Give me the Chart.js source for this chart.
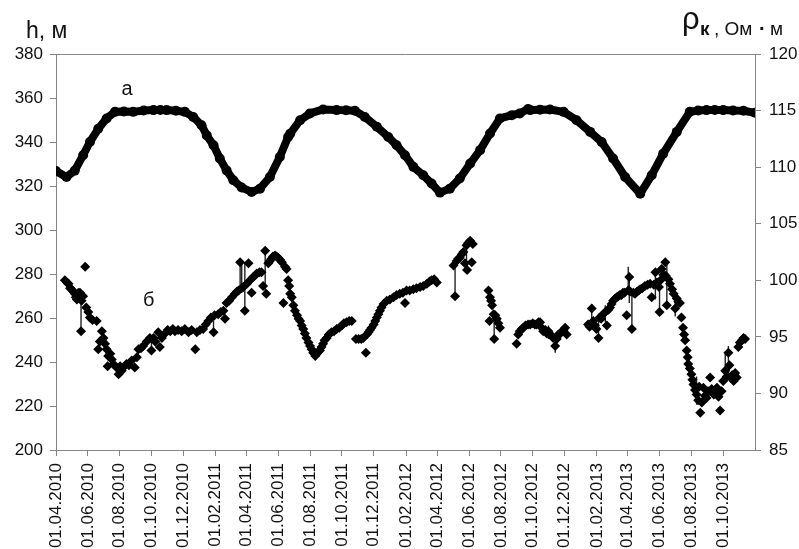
<!DOCTYPE html>
<html>
<head>
<meta charset="utf-8">
<script src="https://cdn.jsdelivr.net/npm/chart.js@4.4.1/dist/chart.umd.min.js"></script>
<style>
  html, body { margin: 0; padding: 0; background: #fff; overflow: hidden; }
  #wrap { width: 799px; height: 549px; overflow: hidden; position: relative; }
  canvas { display: block; }
</style>
</head>
<body>
<div id="wrap"><canvas id="chart" width="799" height="600"></canvas></div>
<script>
// Dates are given as day offsets from 01.04.2010.
const tickLabels = [
  '01.04.2010', '01.06.2010', '01.08.2010', '01.10.2010', '01.12.2010',
  '01.02.2011', '01.04.2011', '01.06.2011', '01.08.2011', '01.10.2011', '01.12.2011',
  '01.02.2012', '01.04.2012', '01.06.2012', '01.08.2012', '01.10.2012', '01.12.2012',
  '01.02.2013', '01.04.2013', '01.06.2013', '01.08.2013', '01.10.2013'
];
const axisStart = '01.04.2010';
const axisEnd = '01.12.2013';

const hTicks = [200, 220, 240, 260, 280, 300, 320, 340, 360, 380];
const rhoTicks = [85, 90, 95, 100, 105, 110, 115, 120];

// Curve "а": h, м (left axis)
const hDays = [
  0, 20, 36, 52, 65, 81, 97, 113, 130, 148, 168, 187, 200, 212, 230, 247, 263, 279,
  289, 302, 314, 327, 340, 356, 375, 391, 410, 429, 445, 449, 468, 487, 512, 538,
  556, 573, 592, 615, 637, 653, 669, 685, 704, 720, 736, 755, 774, 794, 813, 832,
  851, 874, 889, 905, 909, 928, 947, 973, 998, 1024, 1046, 1068, 1091, 1120, 1142,
  1164, 1190, 1215, 1231, 1247, 1263, 1279, 1298, 1318, 1340
];
const hValues = [
  326.8, 324.1, 327.0, 334.0, 340.0, 346.0, 350.7, 353.7, 353.9, 353.7, 354.3, 354.5, 354.6, 354.5, 354.2, 353.7, 351.4, 347.6,
  343.0, 338.5, 332.5, 327.1, 322.6, 319.3, 317.3, 318.8, 324.1, 333.2, 342.3, 343.8, 349.9, 353.0, 354.8, 354.5,
  354.4, 354.2, 351.4, 346.9, 342.3, 338.5, 334.0, 328.7, 324.9, 321.1, 317.0, 318.8, 323.4, 330.2, 336.3, 343.9,
  350.7, 352.2, 353.0, 355.0, 354.5, 354.7, 354.8, 353.7, 349.9, 344.6, 340.0, 332.5, 324.1, 316.5, 324.9,
  334.7, 344.6, 353.7, 354.3, 354.5, 354.6, 354.5, 354.3, 354.2, 353.3
];

// Series "б": ρк, Ом·м (right axis)
const rhoDays = [
  17, 21, 24, 27, 30, 33, 36, 38, 40, 43, 46, 48, 49, 52, 56, 58, 62, 65, 70, 78,
  81, 84, 88, 91, 94, 97, 99, 100, 104, 107, 110, 116, 120, 123, 126, 129, 135, 140, 145, 151,
  155, 158, 163, 167, 174, 180, 183, 187, 190, 196, 199, 203, 209, 214, 219, 224, 228, 234, 241, 247,
  254, 260, 267, 270, 276, 282, 287, 292, 297, 302, 304, 311, 316, 321, 324, 327, 332, 337, 343, 347,
  350, 353, 356, 359, 362, 366, 369, 372, 375, 378, 381, 385, 390, 394, 397, 401, 403, 407, 410, 413,
  416, 420, 423, 426, 430, 433, 436, 439, 442, 445, 447, 449, 452, 455, 458, 462, 465, 468, 471, 474,
  477, 480, 484, 487, 490, 493, 497, 500, 503, 506, 509, 512, 515, 519, 523, 528, 533, 538, 543, 548,
  552, 557, 562, 567, 575, 580, 585, 589, 594, 596, 599, 602, 605, 609, 612, 615, 618, 621, 624, 628,
  634, 640, 647, 653, 659, 665, 669, 672, 678, 685, 691, 698, 704, 711, 716, 720, 725, 730,
  762, 765, 768, 771, 774, 778, 781, 784, 787, 788, 790, 794, 797, 799,
  829, 831, 832, 834, 836, 839, 840, 842, 845, 848, 851,
  883, 886, 889, 893, 896, 900, 905, 909, 914, 918, 921, 925, 928, 931, 934, 938, 941, 944, 948, 953,
  957, 960, 963, 967, 970, 973, 976, 979,
  1020, 1023, 1027, 1030, 1033, 1036, 1040, 1042, 1045, 1049, 1053, 1056, 1059, 1062, 1065, 1068, 1072, 1075, 1078, 1081,
  1084, 1087, 1090, 1094, 1097, 1099, 1101, 1104, 1107, 1110, 1114, 1117, 1120, 1124, 1129, 1134, 1139, 1142, 1146, 1149,
  1152, 1156, 1157, 1159, 1161, 1164, 1168, 1169, 1171, 1174, 1177, 1181, 1184, 1187, 1190, 1193, 1196, 1199, 1202, 1204,
  1206, 1209, 1211, 1212, 1215, 1218, 1220, 1222, 1225, 1228, 1231, 1233, 1235, 1238, 1241, 1244, 1247, 1250, 1254, 1257,
  1261, 1264, 1267, 1270, 1273, 1276, 1279, 1283, 1286, 1289, 1291, 1293, 1296, 1299, 1302, 1305,
  1308, 1311, 1315, 1318, 1321
];
const rhoValues = [
  100.0, 99.8, 99.7, 99.3, 99.2, 99.0, 98.8, 98.5, 98.3, 98.9, 98.9, 95.5, 98.2, 98.6, 101.2, 97.6, 97.2, 96.7, 96.5, 96.4,
  93.9, 94.6, 95.5, 94.9, 94.4, 93.9, 92.4, 93.3, 93.5, 93.0, 92.6, 92.3, 91.7, 92.4, 92.0, 92.3, 92.6, 92.5, 92.9, 92.3,
  93.2, 93.9, 94.0, 94.2, 94.6, 94.9, 93.8, 94.9, 94.6, 95.4, 94.1, 94.9, 95.3, 95.6, 95.5, 95.7, 95.5, 95.6, 95.5, 95.7,
  95.4, 95.6, 93.9, 95.4, 95.6, 95.7, 96.1, 96.4, 96.7, 95.4, 96.9, 97.0, 97.2, 97.3, 96.6, 98.0, 98.2, 98.5, 98.8, 99.0,
  99.1, 101.6, 99.3, 99.4, 97.3, 99.7, 101.5, 100.0, 98.9, 100.3, 100.4, 100.6, 100.7, 100.7, 99.5, 102.6, 98.8, 101.5, 101.7, 101.9,
  102.1, 102.2, 102.1, 102.0, 101.8, 101.6, 98.0, 101.2, 101.0, 100.0, 99.5, 98.8, 98.5, 97.8, 97.3, 96.9, 96.6, 96.4, 96.0, 95.7,
  95.3, 94.9, 94.5, 94.2, 93.9, 93.6, 93.3, 93.5, 93.7, 93.8, 94.1, 94.4, 94.7, 94.9, 95.2, 95.4, 95.5, 95.7, 95.8, 96.0,
  96.2, 96.3, 96.4, 96.4, 94.8, 94.8, 94.8, 94.9, 93.6, 95.2, 95.4, 95.6, 95.8, 96.1, 96.4, 96.7, 97.0, 97.3, 97.6, 97.9,
  98.2, 98.3, 98.5, 98.7, 98.8, 98.9, 98.0, 99.1, 99.1, 99.2, 99.3, 99.4, 99.5, 99.7, 99.9, 100.0, 100.1, 99.8,
  101.3, 98.6, 101.7, 101.9, 102.0, 102.3, 102.5, 101.5, 103.1, 100.9, 103.3, 103.5, 101.6, 103.2,
  99.1, 96.4, 98.5, 98.2, 97.8, 97.0, 94.8, 96.9, 96.6, 96.2, 95.8,
  94.4, 95.2, 95.5, 95.7, 95.8, 96.0, 96.1, 96.1, 96.2, 96.1, 96.1, 96.3, 96.3, 95.8, 95.5, 95.6, 95.3, 95.5, 95.2, 94.9,
  94.2, 94.8, 95.2, 95.3, 95.5, 95.6, 95.8, 95.2,
  96.1, 95.9, 97.5, 96.4, 96.0, 95.7, 94.9, 96.7, 96.6, 97.0, 97.2, 96.0, 97.4, 97.6, 97.9, 98.2, 98.4, 98.5, 98.6, 98.7,
  98.7, 98.9, 98.9, 96.9, 99.1, 100.3, 99.0, 95.7, 98.9, 98.8, 99.0, 99.1, 99.2, 99.3, 99.5, 99.6, 99.7, 98.5, 99.6, 100.7,
  99.8, 99.4, 97.2, 100.0, 101.0, 100.5, 101.6, 100.4, 97.8, 100.1, 99.7, 99.2, 98.8, 97.5, 98.4, 98.1, 98.0, 96.7, 95.8, 95.2,
  94.7, 93.8, 93.2, 92.6, 92.2, 91.7, 91.2, 90.8, 90.3, 89.9, 89.4, 90.6, 88.3, 89.2, 90.5, 89.8, 89.6, 90.2, 91.4, 90.4,
  89.9, 90.1, 90.5, 89.7, 88.5, 90.2, 91.1, 92.0, 91.5, 93.6, 92.5, 91.4, 91.6, 91.1, 91.8, 91.4,
  94.1, 94.5, 94.7, 94.9, 94.8
];

// Vertical spread bars on series "б"
const errDays = [48, 183, 302, 353, 356, 362, 401, 765, 787, 840, 944, 957, 1027, 1040, 1053, 1097, 1099, 1104, 1149, 1157, 1171, 1187, 1228, 1283, 1289];
const errLow  = [95.5, 93.8, 95.4, 99.2, 99.3, 97.3, 98.8, 98.6, 100.9, 94.8, 94.8, 93.6, 96.2, 94.9, 96.3, 98.9, 98.0, 95.7, 98.3, 97.2, 97.8, 96.8, 89.0, 91.0, 91.5];
const errHigh = [98.6, 94.6, 96.9, 101.6, 101.4, 101.5, 102.6, 101.5, 103.1, 97.0, 96.0, 95.0, 97.9, 96.8, 97.8, 101.2, 100.3, 98.8, 100.9, 99.4, 101.6, 98.5, 91.5, 93.5, 94.2];

function dayOf(s) {
  const [d, m, y] = s.split('.').map(Number);
  const [d0, m0, y0] = axisStart.split('.').map(Number);
  return Math.round((Date.UTC(y, m - 1, d) - Date.UTC(y0, m0 - 1, d0)) / 86400000);
}
const tickDays = tickLabels.map(dayOf);

const hPoints = hDays.map((d, i) => ({ x: d, y: hValues[i] }));
const rhoPoints = rhoDays.map((d, i) => ({ x: d, y: rhoValues[i] }));
const errPoints = [];
errDays.forEach((d, i) => {
  errPoints.push({ x: d, y: errLow[i] }, { x: d, y: errHigh[i] }, { x: d, y: null });
});

const FONT = "Arial, 'Liberation Sans', sans-serif";
const AXIS_GREY = '#858585';

const frameAndText = {
  id: 'frameAndText',
  beforeDatasetsDraw(chart) {
    const { ctx, chartArea } = chart;
    ctx.save();
    ctx.strokeStyle = AXIS_GREY;
    ctx.lineWidth = 1;
    ctx.beginPath();
    ctx.moveTo(chartArea.left, Math.round(chartArea.top) + 0.5);
    ctx.lineTo(chartArea.right, Math.round(chartArea.top) + 0.5);
    ctx.stroke();
    ctx.restore();
  },
  afterDraw(chart) {
    const { ctx, scales } = chart;
    ctx.save();
    ctx.fillStyle = '#111';
    ctx.textBaseline = 'alphabetic';
    ctx.textAlign = 'left';
    // left axis caption
    ctx.font = '23px ' + FONT;
    ctx.fillText('h, м', 26, 38);
    // right axis caption
    ctx.font = '31px ' + FONT;
    ctx.fillText('ρ', 682, 29);
    ctx.font = 'bold 19px ' + FONT;
    ctx.fillText('к', 700, 35);
    ctx.font = '19px ' + FONT;
    ctx.fillText(', Ом', 714, 35);
    ctx.font = 'bold 20px ' + FONT;
    ctx.fillText('·', 759, 35);
    ctx.font = '19px ' + FONT;
    ctx.fillText('м', 770, 35);
    // curve names
    ctx.textAlign = 'center';
    ctx.textBaseline = 'middle';
    ctx.font = '20px ' + FONT;
    ctx.fillText('а', scales.x.getPixelForValue(136), scales.y.getPixelForValue(364));
    ctx.fillText('б', scales.x.getPixelForValue(178), scales.y1.getPixelForValue(98.2));
    ctx.restore();
  }
};

new Chart(document.getElementById('chart'), {
  type: 'scatter',
  data: {
    datasets: [
      {
        label: 'а',
        data: hPoints,
        yAxisID: 'y',
        showLine: true,
        borderColor: '#000',
        borderWidth: 8,
        borderJoinStyle: 'round',
        borderCapStyle: 'round',
        pointStyle: 'circle',
        pointRadius: 5,
        pointBackgroundColor: '#000',
        pointBorderWidth: 0
      },
      {
        label: 'б',
        data: rhoPoints,
        yAxisID: 'y1',
        showLine: false,
        pointStyle: 'rectRot',
        pointRadius: 5,
        pointBackgroundColor: '#000',
        pointBorderColor: '#000',
        pointBorderWidth: 0
      },
      {
        label: 'spread',
        data: errPoints,
        yAxisID: 'y1',
        showLine: true,
        spanGaps: false,
        borderColor: '#222',
        borderWidth: 1.4,
        pointRadius: 0
      }
    ]
  },
  options: {
    responsive: false,
    animation: false,
    devicePixelRatio: 1,
    layout: { padding: { top: 54, left: 0, right: 0, bottom: 0 } },
    plugins: { legend: { display: false }, tooltip: { enabled: false } },
    scales: {
      x: {
        type: 'linear',
        min: dayOf(axisStart),
        max: dayOf(axisEnd),
        afterBuildTicks: (scale) => { scale.ticks = tickDays.map(v => ({ value: v })); },
        afterFit: (scale) => { scale.height = 150; },
        grid: { drawOnChartArea: false, drawTicks: true, tickLength: 6, color: AXIS_GREY },
        border: { color: AXIS_GREY, width: 1 },
        ticks: {
          autoSkip: false,
          maxRotation: 90,
          minRotation: 90,
          padding: 7,
          color: '#111',
          font: { family: FONT, size: 17 },
          callback: (v, i) => tickLabels[i]
        }
      },
      y: {
        position: 'left',
        min: hTicks[0],
        max: hTicks[hTicks.length - 1],
        afterBuildTicks: (scale) => { scale.ticks = hTicks.map(v => ({ value: v })); },
        afterFit: (scale) => { scale.width = 56; },
        grid: { drawOnChartArea: false, drawTicks: true, tickLength: 6, color: AXIS_GREY },
        border: { color: AXIS_GREY, width: 1 },
        ticks: { padding: 7, color: '#111', font: { family: FONT, size: 17 } }
      },
      y1: {
        position: 'right',
        min: rhoTicks[0],
        max: rhoTicks[rhoTicks.length - 1],
        afterBuildTicks: (scale) => { scale.ticks = rhoTicks.map(v => ({ value: v })); },
        afterFit: (scale) => { scale.width = 44; },
        grid: { drawOnChartArea: false, drawTicks: true, tickLength: 6, color: AXIS_GREY },
        border: { color: AXIS_GREY, width: 1 },
        ticks: { padding: 8, color: '#111', font: { family: FONT, size: 17 } }
      }
    }
  },
  plugins: [frameAndText]
});
</script>
</body>
</html>
